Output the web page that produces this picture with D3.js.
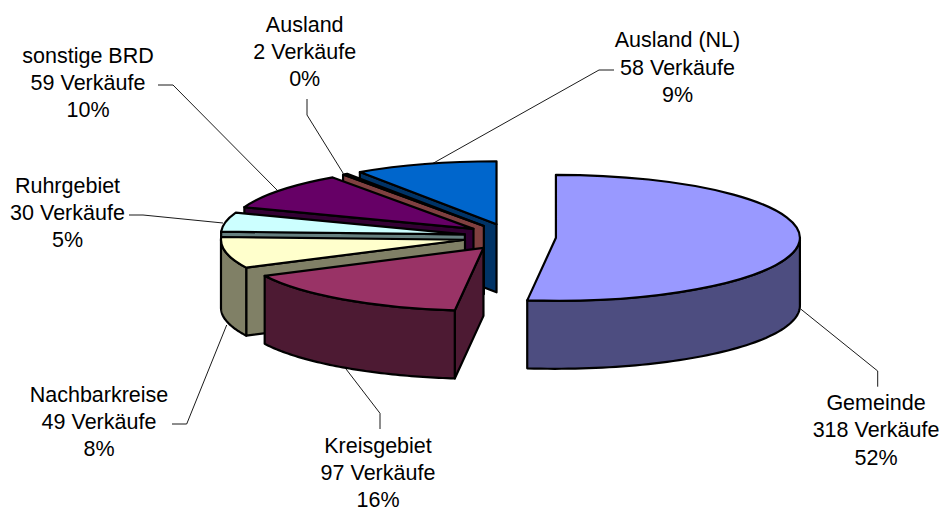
<!DOCTYPE html>
<html><head><meta charset="utf-8">
<script src="https://cdn.jsdelivr.net/npm/d3@7"></script>
<style>html,body{margin:0;padding:0;background:#fff}svg{display:block}
text{font-family:"Liberation Sans",Arial,sans-serif;font-size:21.5px;fill:#000;text-anchor:middle}</style>
</head><body><svg id="c" width="941" height="509"></svg>
<script>
const categories=["Gemeinde","Kreisgebiet","Nachbarkreise","Ruhrgebiet","sonstige BRD","Ausland","Ausland (NL)"];
const sales=[318,97,49,30,59,2,58];
const percents=["52%","16%","8%","5%","10%","0%","9%"];
const topColors=["#9999FF","#993366","#FFFFCC","#CCFFFF","#660066","#FF8080","#0066CC"];
const wallColors=["#4D4D80","#4D1A33","#808066","#668080","#330033","#804040","#003366"];
const labelAnchors=[[876,410],[378,452.5],[99,401.5],[67.5,192.5],[88,62.5],[304.7,31.5],[677.5,47.3]];
const leaders=[
 [[800.7,309],[877.7,371],[877.7,386.7]],
 [[345,367.7],[380,413.3],[380,429]],
 [[226.7,325],[186.7,424],[172,424]],
 [[223,223],[143,215],[129,215]],
 [[277,190],[173,85],[158,85]],
 [[343,173],[307,115],[307,99]],
 [[430,165],[599,70],[614,70]]
];
const cx=510,cy=237,rx=244,ry=63,depth=68,explode=46,explodeTilt=0.29;
const svg=d3.select("#c");
const pie=d3.pie().sort(null).startAngle(0).endAngle(2*Math.PI);
const slices=pie(sales);
const arc=d3.arc().innerRadius(0).outerRadius(rx);
const line=d3.line();
const pt=(c,a,r=1)=>[c[0]+rx*r*Math.sin(a),c[1]-ry*r*Math.cos(a)];
const down=p=>[p[0],p[1]+depth];
const gLead=svg.append("g");
leaders.forEach(l=>gLead.append("path").attr("d",line(l)).attr("fill","none").attr("stroke","#000").attr("stroke-width",0.9));
const stroke=s=>s.attr("stroke","#000").attr("stroke-width",2.2).attr("stroke-linejoin","round");
// painter's order: back slice first, Gemeinde last
[6,5,4,3,2,1,0].forEach(i=>{
  const d=slices[i],mid=(d.startAngle+d.endAngle)/2;
  const c=[cx+explode*Math.sin(mid),cy-explode*explodeTilt*Math.cos(mid)];
  const g=svg.append("g");
  // radial walls: only the one facing the viewer
  const faces=[];
  if(Math.sin(d.startAngle)<-1e-6)faces.push(d.startAngle);
  if(Math.sin(d.endAngle)>1e-6)faces.push(d.endAngle);
  faces.forEach(a=>{
    const p=pt(c,a);
    stroke(g.append("path").attr("d",line([c,p,down(p),down(c)])+"Z").attr("fill",wallColors[i]));
  });
  // outer wall, visible part only (front half of the rim)
  const a0=Math.max(d.startAngle,Math.PI/2),a1=Math.min(d.endAngle,3*Math.PI/2);
  if(a1>a0){
    const n=60,as=d3.range(n+1).map(k=>a0+(a1-a0)*k/n);
    const upper=as.map(a=>pt(c,a));
    const lower=upper.map(down).reverse();
    stroke(g.append("path").attr("d",line(upper.concat(lower))+"Z").attr("fill",wallColors[i]));
  }
  // top face
  stroke(g.append("path").attr("d",arc(d))
    .attr("transform",`translate(${c[0]},${c[1]}) scale(1,${ry/rx})`)
    .attr("vector-effect","non-scaling-stroke").attr("fill",topColors[i]));
});
const gText=svg.append("g");
categories.forEach((name,i)=>{
  const t=gText.append("text").attr("x",labelAnchors[i][0]).attr("y",labelAnchors[i][1]);
  [name,sales[i]+" Verkäufe",percents[i]].forEach((s,j)=>{
    t.append("tspan").attr("x",labelAnchors[i][0]).attr("dy",j?27.3:0).text(s);
  });
});
</script></body></html>
